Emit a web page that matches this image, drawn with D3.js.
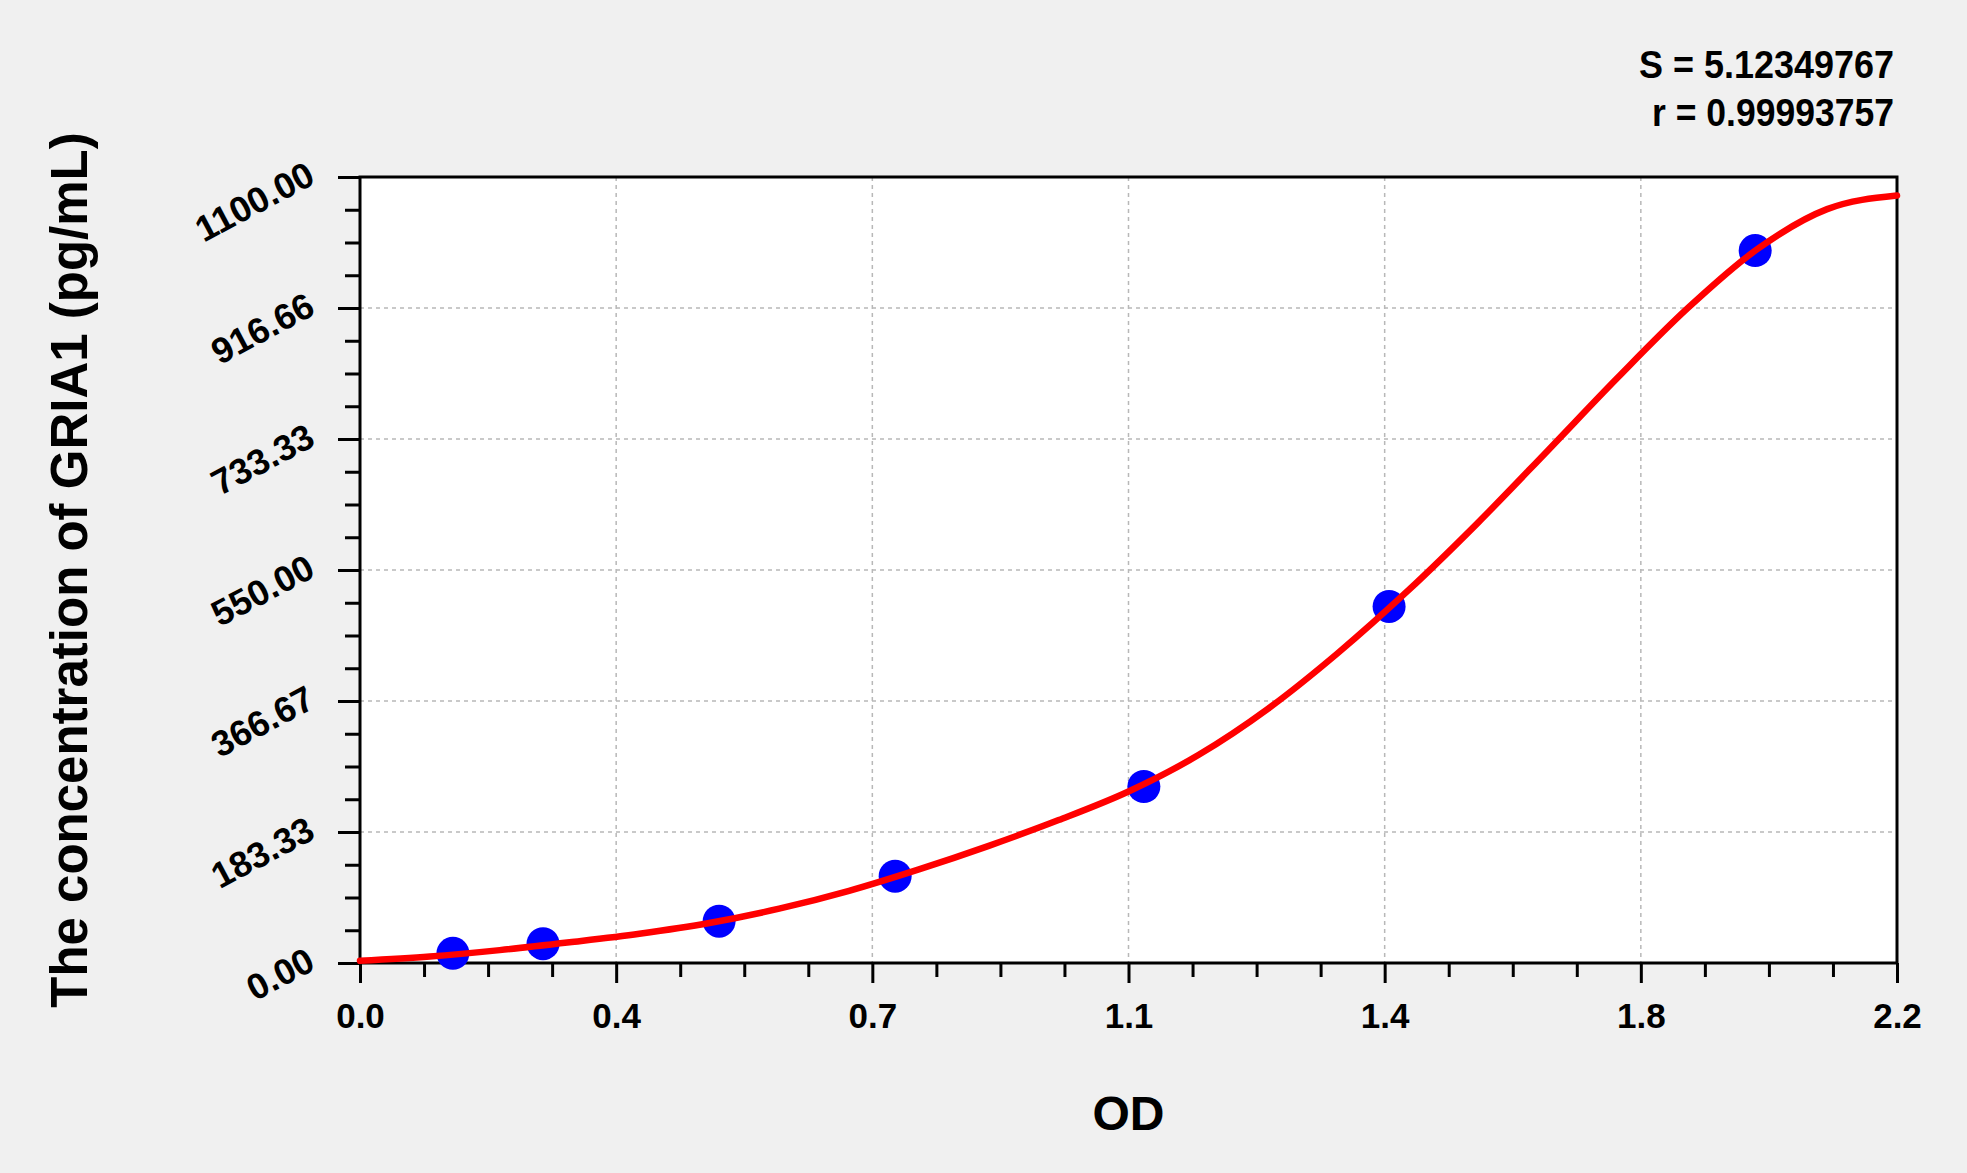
<!DOCTYPE html>
<html>
<head>
<meta charset="utf-8">
<script src="https://cdn.jsdelivr.net/npm/d3@7/dist/d3.min.js"></script>
<style>
  html, body { margin: 0; padding: 0; background: #f0f0f0; }
  svg { display: block; }
  text { font-family: "Liberation Sans", Arial, sans-serif; font-weight: bold; fill: #000; }
</style>
</head>
<body>
<svg id="chart" width="1967" height="1173"></svg>
<script>
// ---- data ----
const xTickLabels = ["0.0", "0.4", "0.7", "1.1", "1.4", "1.8", "2.2"];
const yTickLabels = ["0.00", "183.33", "366.67", "550.00", "733.33", "916.66", "1100.00"];
const xMax = 2.2;
const yMax = 1100;

// standards (OD, concentration)
const stdOD   = [0.133, 0.262, 0.514, 0.766, 1.122, 1.473, 1.997];
const stdConc = [13.5, 27.0, 58.5, 121.5, 247.0, 499.0, 997.0];

// fitted curve
const fitOD   = [0.0, 0.1, 0.2, 0.3, 0.4, 0.5, 0.6, 0.7, 0.8, 0.9, 1.0, 1.1, 1.2, 1.3, 1.4, 1.5, 1.6, 1.7, 1.8, 1.9, 2.0, 2.1, 2.2];
const fitConc = [3, 9, 18, 29, 41, 56, 76, 101, 131, 164, 200, 240, 291, 356, 434, 521, 616, 717, 819, 916, 999, 1055, 1074];

const statLines = ["S = 5.12349767", "r = 0.99993757"];
const xTitle = "OD";
const yTitle = "The concentration of GRIA1 (pg/mL)";

// ---- layout ----
const svg = d3.select("#chart");
const L = 360, R = 1897, T = 177, B = 963;

const x = d3.scaleLinear().domain([0, xMax]).range([L, R]);
const y = d3.scaleLinear().domain([0, yMax]).range([B, T]);

const xMajor = xTickLabels.map((d, i) => i * xMax / (xTickLabels.length - 1));
const yMajor = yTickLabels.map((d, i) => i * yMax / (yTickLabels.length - 1));
function minorsOf(majors) {
  const out = [];
  for (let i = 0; i < majors.length - 1; i++) {
    const step = (majors[i + 1] - majors[i]) / 4;
    for (let k = 1; k < 4; k++) out.push(majors[i] + k * step);
  }
  return out;
}
const xMinor = minorsOf(xMajor);
const yMinor = minorsOf(yMajor);

// plot background
svg.append("rect").attr("x", L).attr("y", T).attr("width", R - L).attr("height", B - T).attr("fill", "#fff");

// grid
const grid = svg.append("g").attr("stroke", "#b8b8b8").attr("stroke-width", 1.5).attr("stroke-dasharray", "4,4");
grid.selectAll("line.v").data(xMajor.slice(1, -1)).enter().append("line")
  .attr("x1", d => x(d)).attr("x2", d => x(d)).attr("y1", T).attr("y2", B);
grid.selectAll("line.h").data(yMajor.slice(1, -1)).enter().append("line")
  .attr("y1", d => y(d)).attr("y2", d => y(d)).attr("x1", L).attr("x2", R);

// frame
svg.append("rect").attr("x", L).attr("y", T).attr("width", R - L).attr("height", B - T)
  .attr("fill", "none").attr("stroke", "#000").attr("stroke-width", 3);

// axes
function styleAxis(g) {
  g.select(".domain").remove();
  g.selectAll(".tick line").attr("stroke", "#000").attr("stroke-width", 3);
}
svg.append("g").attr("transform", `translate(0,${B})`)
  .call(d3.axisBottom(x).tickValues(xMinor).tickSize(14).tickFormat(""))
  .call(styleAxis);
svg.append("g").attr("transform", `translate(${L},0)`)
  .call(d3.axisLeft(y).tickValues(yMinor).tickSize(15).tickFormat(""))
  .call(styleAxis);

const xAx = svg.append("g").attr("transform", `translate(0,${B})`)
  .call(d3.axisBottom(x).tickValues(xMajor).tickSize(20).tickPadding(28)
    .tickFormat((d, i) => xTickLabels[i]))
  .call(styleAxis);
xAx.selectAll(".tick text").attr("font-size", 35).attr("font-family", null).attr("fill", "#000")
  .attr("dy", null).attr("y", 65);

const yAx = svg.append("g").attr("transform", `translate(${L},0)`)
  .call(d3.axisLeft(y).tickValues(yMajor).tickSize(22).tickFormat((d, i) => yTickLabels[i]))
  .call(styleAxis);
yAx.selectAll(".tick text")
  .attr("font-size", 36).attr("font-family", null).attr("fill", "#000")
  .attr("x", null).attr("dy", null)
  .attr("text-anchor", "end")
  .attr("transform", "translate(-43,5) rotate(-28)");

// fitted curve
const fit = fitOD.map((d, i) => [d, fitConc[i]]);
const line = d3.line().x(d => x(d[0])).y(d => y(d[1])).curve(d3.curveMonotoneX);

// standards
svg.append("g").selectAll("circle").data(stdOD.map((d, i) => [d, stdConc[i]])).enter()
  .append("circle").attr("cx", d => x(d[0])).attr("cy", d => y(d[1])).attr("r", 16.5).attr("fill", "#0000ff");

// curve drawn over the dots, as in the reference
svg.append("path").datum(fit)
  .attr("fill", "none").attr("stroke", "#ff0000").attr("stroke-width", 6.5).attr("stroke-linecap", "round")
  .attr("d", line);

// titles
svg.append("text").attr("x", (L + R) / 2).attr("y", 1130).attr("text-anchor", "middle")
  .attr("font-size", 48).text(xTitle);
svg.append("text").attr("transform", `translate(87,${(T + B) / 2}) rotate(-90)`).attr("text-anchor", "middle")
  .attr("font-size", 51).text(yTitle);

// statistics text (narrow face)
const statWidths = [255, 242];
statLines.forEach((s, i) => {
  svg.append("text").attr("x", 1894).attr("y", 78 + i * 48).attr("text-anchor", "end")
    .attr("font-size", 39).attr("textLength", statWidths[i]).attr("lengthAdjust", "spacingAndGlyphs")
    .text(s);
});
</script>
</body>
</html>
